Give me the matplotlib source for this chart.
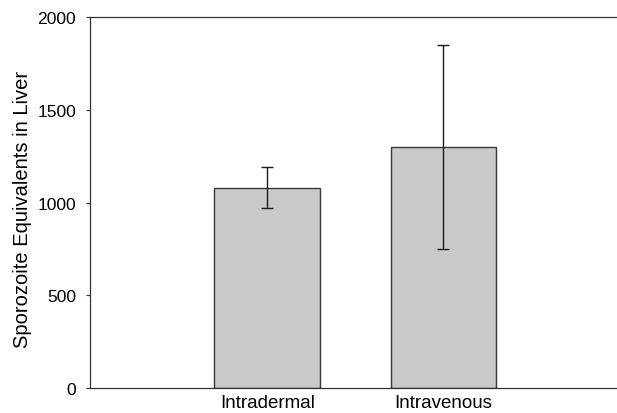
import matplotlib.pyplot as plt
import numpy as np

plt.rcParams['font.family'] = ['Liberation Sans', 'DejaVu Sans']

groups = ['Intradermal', 'Intravenous']
means = [1080, 1300]
errors = [110, 550]
y_ticks = [0, 500, 1000, 1500, 2000]

fig = plt.figure(figsize=(6.17, 4.14), dpi=100)
ax = fig.add_axes([0.1459, 0.0611, 0.8541, 0.8947])

x = np.arange(1, len(groups) + 1)
ax.bar(x, means, width=0.6, color='#c8c9cb', edgecolor='#3a3a3a', linewidth=1.0)
ax.errorbar(x, means, yerr=errors, fmt='none', ecolor='#1a1a1a',
            elinewidth=1.0, capsize=4.2, capthick=1.0)

ax.set_xlim(-0.006, 2.985)
ax.set_ylim(0, 2000)
ax.set_yticks(y_ticks)
ax.set_xticks(x)
ax.set_xticklabels(groups)
ax.tick_params(axis='x', length=0, pad=4.5, labelsize=13.5)
ax.tick_params(axis='y', length=3.1, width=0.8, pad=7, labelsize=12.6,
               direction='out', color='#333333')
ax.set_ylabel('Sporozoite Equivalents in Liver', fontsize=14.5)
ax.yaxis.set_label_coords(-0.110, 0.485)

ax.spines['right'].set_visible(False)
for s in ['left', 'bottom', 'top']:
    ax.spines[s].set_color('#333333')
    ax.spines[s].set_linewidth(0.9)

fig.savefig('out.png', dpi=100)
